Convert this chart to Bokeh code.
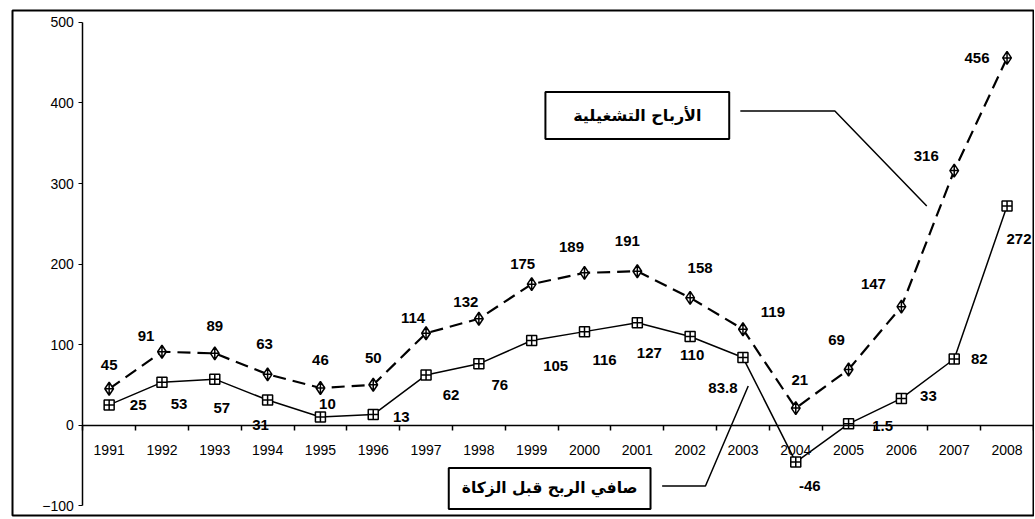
from bokeh.plotting import figure
from bokeh.models import LinearAxis, FixedTicker, Range1d, ColumnDataSource
from bokeh.core.properties import value
from bokeh.embed import file_html
from bokeh.resources import INLINE

years = [1991, 1992, 1993, 1994, 1995, 1996, 1997, 1998, 1999,
         2000, 2001, 2002, 2003, 2004, 2005, 2006, 2007, 2008]
operating = [45, 91, 89, 63, 46, 50, 114, 132, 175, 189, 191, 158, 119, 21, 69, 147, 316, 456]
net = [25, 53, 57, 31, 10, 13, 62, 76, 105, 116, 127, 110, 83.8, -46, 1.5, 33, 82, 272]
y_ticks = [-100, 0, 100, 200, 300, 400, 500]
name_operating = "الأرباح التشغيلية"
name_net = "صافي الربح قبل الزكاة"

# label offsets (screen px) for data labels
op_dx = [0, -16, 0, -3, 0, 0, -13, -13, -9, -13, -10, 10, 30, 4, -12, -28, -28, -30]
op_dy = [-24, -16, -27, -30, -28, -27, -15, -17, -20, -26, -30, -30, -17, -28, -29, -23, -15, 0]
net_dx = [29, 17, 7, -7, 7, 28, 25, 21, 24, 20, 12, 2, -20, 14, 34, 27, 25, 12]
net_dy = [0, 22, 29, 25, -13, 2, 20, 21, 26, 28, 30, 19, 30, 24, 2, -2, 0, 33]

xs = list(range(len(years)))

p = figure(width=1034, height=517, output_backend="svg", toolbar_location=None,
           x_range=Range1d(-1.83, 17.52), y_range=Range1d(-112.4, 514.9),
           min_border_left=12, min_border_right=0, min_border_top=10, min_border_bottom=2,
           x_axis_type=None, y_axis_type=None)
p.grid.visible = False
p.outline_line_color = "black"
p.outline_line_width = 2
p.background_fill_color = "white"
p.border_fill_color = "white"

FONT = "Liberation Sans"

# y axis (inside frame)
yax = LinearAxis(ticker=FixedTicker(ticks=y_ticks), fixed_location=-0.5, bounds=(-100, 500))
yax.axis_line_color = "black"
yax.axis_line_width = 1.5
yax.major_tick_out = 4
yax.major_tick_in = 0
yax.minor_tick_out = 0
yax.major_label_standoff = 5
yax.major_label_text_font = FONT
yax.major_label_text_font_size = "14px"
yax.major_label_text_color = "black"
p.add_layout(yax, "left")

# x axis: labels at year centres, boundary tick marks as minor ticks
xlab = LinearAxis(ticker=FixedTicker(ticks=xs, minor_ticks=[i - 0.5 for i in range(len(years) + 1)]),
                  fixed_location=0, bounds=(-0.5, len(years) - 0.5),
                  major_label_overrides={i: str(y) for i, y in zip(xs, years)})
xlab.axis_line_color = "black"
xlab.axis_line_width = 1.5
xlab.major_tick_out = 0
xlab.major_tick_in = 0
xlab.minor_tick_out = 5
xlab.minor_tick_in = 0
xlab.minor_tick_line_color = "black"
xlab.minor_tick_line_width = 1.5
xlab.major_label_standoff = 15
xlab.major_label_text_font = FONT
xlab.major_label_text_font_size = "14px"
xlab.major_label_text_color = "black"
p.add_layout(xlab, "below")

src = ColumnDataSource(dict(
    x=xs, op=operating, net=net,
    op_t=[f"{v:g}" for v in operating], net_t=[f"{v:g}" for v in net],
    op_dx=op_dx, op_dy=op_dy, net_dx=net_dx, net_dy=net_dy))

p.line("x", "op", source=src, line_color="black", line_width=2.2, line_dash="13 7")
p.line("x", "net", source=src, line_color="black", line_width=1.5)
p.scatter("x", "op", source=src, marker="diamond_cross", size=13,
          fill_color="white", line_color="black", line_width=1.5)
p.scatter("x", "net", source=src, marker="square_cross", size=10,
          fill_color="white", line_color="black", line_width=1.5)

p.text("x", "op", text="op_t", source=src, x_offset="op_dx", y_offset="op_dy",
       text_align="center", text_baseline="middle", text_font=value(FONT),
       text_font_size="15px", text_font_style="bold", text_color="black")
p.text("x", "net", text="net_t", source=src, x_offset="net_dx", y_offset="net_dy",
       text_align="center", text_baseline="middle", text_font=value(FONT),
       text_font_size="15px", text_font_style="bold", text_color="black")

# callout boxes and leader lines
p.quad(left=[8.26], right=[11.74], bottom=[355.3], top=[413.7],
       fill_color="white", line_color="black", line_width=2)
p.text(x=[10.0], y=[384.5], text=[name_operating], text_align="center",
       text_baseline="middle", text_font=value("DejaVu Sans"),
       text_font_size="16px", text_font_style="bold", text_color="black")
p.line([11.95, 13.74, 15.48], [390.1, 390.1, 272.0], line_color="black", line_width=1.5)

p.quad(left=[6.43], right=[10.25], bottom=[-104.3], top=[-53.4],
       fill_color="white", line_color="black", line_width=2)
p.text(x=[8.34], y=[-78.8], text=[name_net], text_align="center",
       text_baseline="middle", text_font=value("DejaVu Sans"),
       text_font_size="15.5px", text_font_style="bold", text_color="black")
p.line([10.47, 11.29, 12.10], [-75.8, -75.8, 48.4], line_color="black", line_width=1.5)

open("out.html", "w").write(file_html(p, INLINE))
